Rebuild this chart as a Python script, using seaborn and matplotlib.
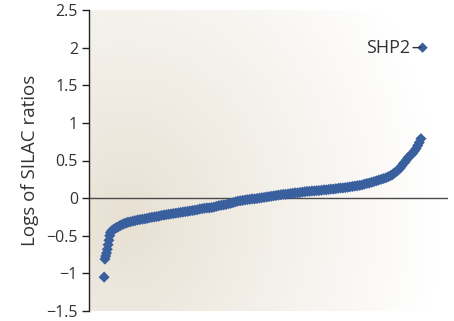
import matplotlib
matplotlib.use('Agg')
import matplotlib.pyplot as plt
import seaborn as sns
import numpy as np
import pandas as pd

# rang des protéines (axe x) et log des ratios SILAC
rang = [1, 2, 3, 4, 5, 6, 7, 8, 9, 10, 11, 13, 15, 17, 19, 21, 23, 25, 27, 29,
        31, 34, 37, 40, 43, 46, 49, 52, 55, 58, 61, 64, 67, 70, 73, 76, 79, 82,
        85, 88, 91, 94, 97, 100, 103, 106, 109, 112, 115, 118, 121, 124, 127,
        130, 133, 136, 139, 142, 145, 148, 151, 154, 157, 160, 163, 166, 169,
        172, 175, 178, 181, 184, 187, 190, 193, 196, 199, 202, 205, 208, 211,
        214, 217, 220, 223, 226, 229, 232, 235, 238, 241, 244, 247, 250, 253,
        256, 259, 262, 265, 268, 271, 274, 277, 280, 283, 286, 289, 292, 295,
        298, 301, 304, 307, 310, 313, 316, 319, 322, 325, 328, 331, 334, 337,
        340, 343, 346, 349, 352, 355, 358, 361, 363, 365, 367, 369, 371, 373,
        375, 377, 379, 381, 383, 385, 387, 389, 391, 393, 395, 397, 399]
log_ratio = [-1.05, -0.81, -0.77, -0.73, -0.68, -0.62, -0.56, -0.50, -0.46,
             -0.445, -0.43, -0.415, -0.40, -0.39, -0.38, -0.365, -0.355, -0.345,
             -0.335, -0.33, -0.32, -0.315, -0.305, -0.30, -0.29, -0.285, -0.28,
             -0.275, -0.27, -0.26, -0.255, -0.25, -0.245, -0.24, -0.23, -0.225,
             -0.22, -0.215, -0.21, -0.205, -0.20, -0.195, -0.19, -0.185, -0.18,
             -0.175, -0.17, -0.165, -0.16, -0.155, -0.145, -0.14, -0.135, -0.13,
             -0.13, -0.125, -0.12, -0.11, -0.10, -0.095, -0.09, -0.085, -0.075,
             -0.07, -0.06, -0.05, -0.04, -0.035, -0.03, -0.025, -0.02, -0.015,
             -0.01, -0.01, -0.005, 0.0, 0.005, 0.01, 0.015, 0.02, 0.025, 0.03,
             0.035, 0.04, 0.045, 0.05, 0.05, 0.055, 0.06, 0.065, 0.07, 0.07,
             0.075, 0.08, 0.085, 0.09, 0.09, 0.095, 0.095, 0.10, 0.10, 0.105,
             0.11, 0.11, 0.115, 0.12, 0.12, 0.125, 0.13, 0.135, 0.135, 0.14,
             0.145, 0.15, 0.155, 0.16, 0.165, 0.17, 0.175, 0.185, 0.195, 0.20,
             0.21, 0.22, 0.23, 0.24, 0.25, 0.26, 0.27, 0.285, 0.30, 0.31, 0.33,
             0.345, 0.36, 0.38, 0.40, 0.43, 0.46, 0.48, 0.51, 0.54, 0.56, 0.58,
             0.60, 0.63, 0.66, 0.70, 0.74, 0.79]
shp2_rang = 401
shp2_val = 2.0

df = pd.DataFrame({'rang': rang, 'log_ratio': log_ratio})

sns.set_style('white')
plt.rcParams['font.family'] = ['Open Sans', 'DejaVu Sans']

fig = plt.figure(figsize=(4.54, 3.21), dpi=100)
ax = fig.add_axes([89/454, 10/321, 359/454, 301/321])

xlim = (-18, 433)
ylim = (-1.5, 2.5)

# fond en dégradé radial (beige -> blanc)
gx, gy = np.meshgrid(np.linspace(0, 1, 300), np.linspace(0, 1, 300))
d = np.sqrt(((gx - 0.1) * 1.2) ** 2 + ((gy - 0.3) * 0.85) ** 2)
t = np.clip(d / 1.05, 0, 1) ** 0.9
c0 = np.array([0.905, 0.878, 0.825])
c1 = np.array([1.0, 1.0, 1.0])
img = c0[None, None, :] * (1 - t[..., None]) + c1[None, None, :] * t[..., None]
ax.imshow(img, extent=[xlim[0], xlim[1], ylim[0], ylim[1]], origin='lower',
          aspect='auto', zorder=0)

ax.axhline(0, color='#4a4a4a', lw=1.0, zorder=1)

sns.scatterplot(data=df, x='rang', y='log_ratio', marker='D', s=32,
                color='#3a5f9e', edgecolor='none', ax=ax, zorder=3)
ax.scatter([shp2_rang], [shp2_val], marker='D', s=28, color='#3a5f9e',
           edgecolor='none', zorder=3)

ax.annotate('SHP2', xy=(shp2_rang - 2, shp2_val), xytext=(shp2_rang - 16, shp2_val),
            ha='right', va='center', fontsize=13, color='#333333',
            arrowprops=dict(arrowstyle='-', color='#333333', lw=1.0,
                            shrinkA=0, shrinkB=0))

ax.set_xlim(xlim)
ax.set_ylim(ylim)
ax.set_xticks([])
ax.set_yticks([-1.5, -1, -0.5, 0, 0.5, 1, 1.5, 2, 2.5])
ax.set_yticklabels(['\u22121.5', '\u22121', '\u22120.5', '0', '0.5', '1', '1.5', '2', '2.5'])
ax.tick_params(axis='y', direction='out', length=5, width=1, color='#222222',
               labelsize=11.5, labelcolor='#333333', pad=3, left=True)
ax.set_xlabel('')
ax.set_ylabel('Logs of SILAC ratios', fontsize=13.5, color='#333333', labelpad=5)

for s in ['top', 'right', 'bottom']:
    ax.spines[s].set_visible(False)
ax.spines['left'].set_color('#222222')
ax.spines['left'].set_linewidth(1.0)

fig.savefig('out.png', dpi=100)
